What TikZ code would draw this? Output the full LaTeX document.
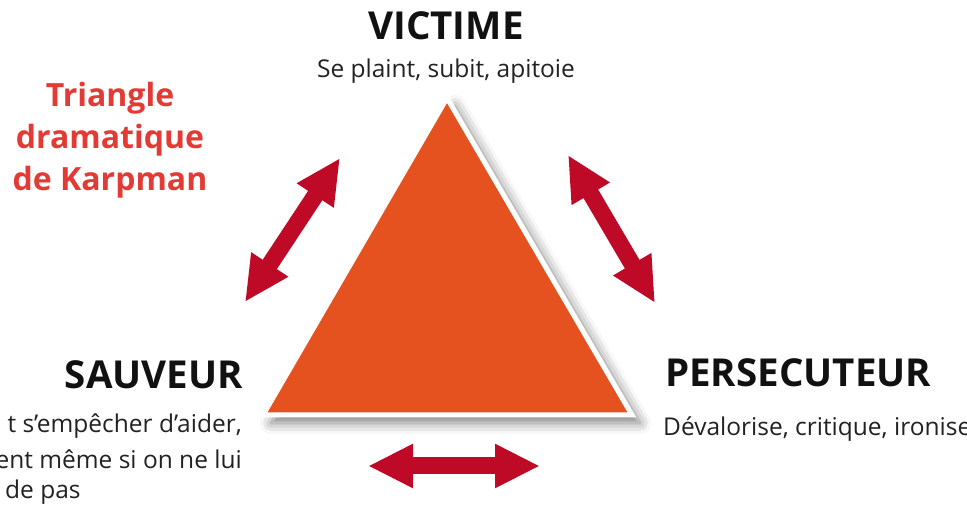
\documentclass[tikz,border=0pt]{standalone}
\usepackage{fontspec}
\setmainfont{Open Sans}
\usepackage{tikz}
\usetikzlibrary{arrows.meta,shadows.blur}
\definecolor{tri}{HTML}{E5511F}
\definecolor{arr}{HTML}{BE0A27}
\definecolor{ttl}{HTML}{E43A36}
\definecolor{ink}{HTML}{111111}
\definecolor{body}{HTML}{222222}
\tikzset{
  role/.style={font=\bfseries\fontsize{38.5}{42}\selectfont, text=ink, inner sep=0pt},
  desc/.style={font=\fontsize{24.5}{28}\selectfont, text=body, inner sep=0pt},
  title/.style={font=\bfseries\fontsize{32}{42}\selectfont, text=ttl, align=center, inner sep=0pt},
  link/.style={draw=arr, line width=17pt, >={Triangle[length=45pt,width=41pt]}, <->},
  core/.style={fill=tri, draw=white, line width=5pt, line join=miter,
    blur shadow={shadow xshift=8pt, shadow yshift=-8pt, shadow blur radius=11pt, shadow opacity=50}},
}

\begin{document}
\begin{tikzpicture}[x=1pt,y=-1pt]
  \useasboundingbox (0,0) rectangle (967,510);
  \clip (0,0) rectangle (967,510);

  % the triangle
  \path[core] (447,98) -- (632,415) -- (263,415) -- cycle;

  % the three roles
  \node[role, anchor=base] (victime) at (446,40) {VICTIME};
  \node[desc, anchor=base] (victimeT) at (446,78) {Se plaint, subit, apitoie};

  \node[role, anchor=base east] (sauveur) at (243,389) {SAUVEUR};
  \node[desc, anchor=base east] (sauveurA) at (242,433) {t s’empêcher d’aider,};
  \node[desc, anchor=base east] (sauveurB) at (242,469) {ent même si on ne lui};
  \node[desc, anchor=base west] (sauveurC) at (5,499) {de pas};

  \node[role, anchor=base west] (persec) at (665,387) {PERSECUTEUR};
  \node[desc, anchor=base west] (persecT) at (663,436) {Dévalorise, critique, ironise};

  \node[title] (titre) at (110,140) {Triangle\\dramatique\\de Karpman};

  % double arrows between the roles
  \coordinate (sv1) at (245,302);
  \coordinate (sv2) at (340,158);
  \coordinate (vp1) at (568,155);
  \coordinate (vp2) at (655,303);
  \coordinate (ps1) at (368,466);
  \coordinate (ps2) at (540,466);
  \draw[link] (sv1) -- (sv2);
  \draw[link] (vp1) -- (vp2);
  \draw[link] (ps1) -- (ps2);
\end{tikzpicture}
\end{document}
